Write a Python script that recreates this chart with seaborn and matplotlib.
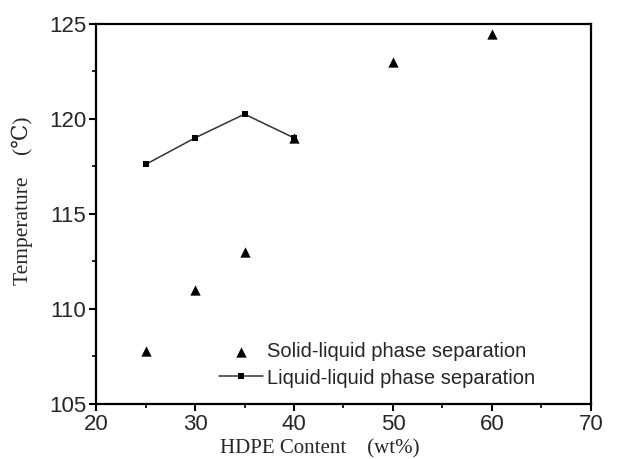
import numpy as np
import pandas as pd
import seaborn as sns
import matplotlib.pyplot as plt
from matplotlib.ticker import MultipleLocator

sns.set_style('ticks')
plt.rcParams['font.family'] = ['Liberation Sans', 'DejaVu Sans']

# data
solid_x = [25, 30, 35, 40, 50, 60]
solid_y = [107.8, 111.0, 113.0, 119.0, 123.0, 124.45]
liquid_x = [25, 30, 35, 40]
liquid_y = [117.6, 119.0, 120.25, 119.0]

solid_df = pd.DataFrame({'x': solid_x, 'y': solid_y})
liquid_df = pd.DataFrame({'x': liquid_x, 'y': liquid_y})

fig = plt.figure(figsize=(6.2, 4.59), dpi=100)
ax = fig.add_axes([0.155, 0.12, 0.798, 0.828])

sns.lineplot(data=liquid_df, x='x', y='y', ax=ax, color='#333333', lw=1.1,
             marker='s', markersize=4.5, markeredgewidth=0, markerfacecolor='black',
             label='Liquid-liquid phase separation', zorder=2)
sns.scatterplot(data=solid_df, x='x', y='y', ax=ax, marker='^', s=55, color='black',
                edgecolor='black', linewidth=0, label='Solid-liquid phase separation', zorder=3)

ax.set_xlim(20, 70)
ax.set_ylim(105, 125)
ax.xaxis.set_major_locator(MultipleLocator(10))
ax.xaxis.set_minor_locator(MultipleLocator(5))
ax.yaxis.set_major_locator(MultipleLocator(5))
ax.yaxis.set_minor_locator(MultipleLocator(2.5))
ax.tick_params(which='major', direction='out', length=5, width=1.5, labelsize=16, pad=2, color='black')
ax.tick_params(which='minor', direction='out', length=3, width=1.2, color='black')
for sp in ax.spines.values():
    sp.set_linewidth(1.6)
    sp.set_color('black')

serif = ['Liberation Serif', 'DejaVu Serif']
ax.set_xlabel('HDPE Content    (wt%)', family=serif, fontsize=15, va='top')
ax.set_ylabel('Temperature    (\u2103)', family=serif, fontsize=15.5)
ax.xaxis.set_label_coords(0.4525, -0.092)
ax.yaxis.set_label_coords(-0.127, 0.534)

h, l = ax.get_legend_handles_labels()
ax.legend(h[::-1], l[::-1], loc='lower left', bbox_to_anchor=(0.22, 0.006), frameon=False,
          fontsize=14.5, handlelength=2.2, handletextpad=0.2, labelspacing=0.35, borderaxespad=0.3)

fig.savefig('out.png', dpi=100)
